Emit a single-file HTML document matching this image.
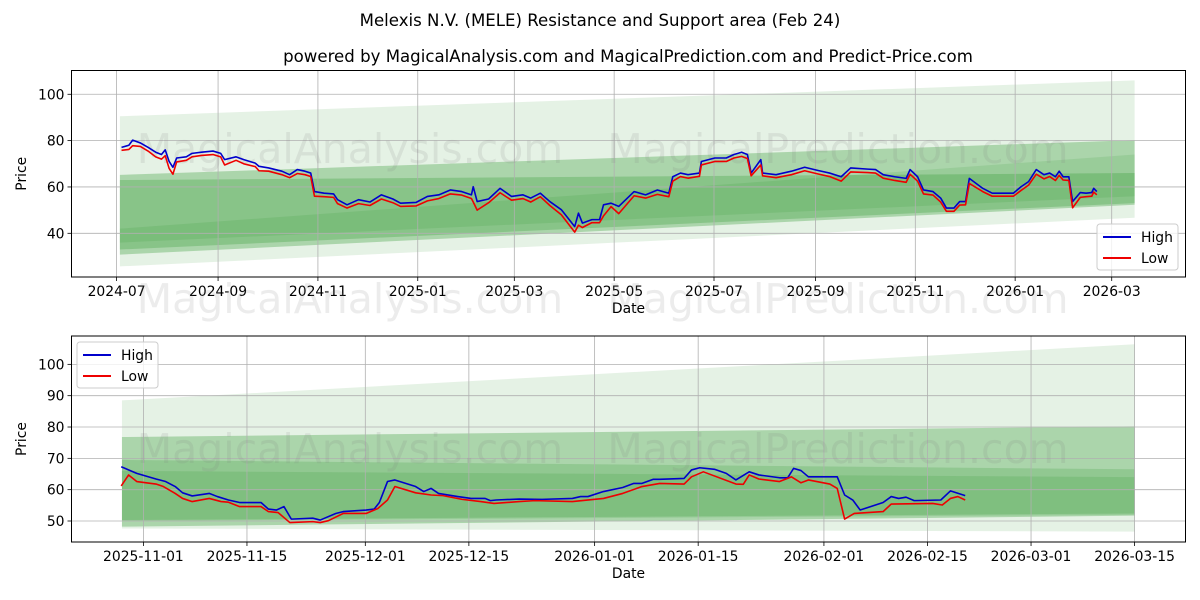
<!DOCTYPE html>
<html><head><meta charset="utf-8">
<style>
body{margin:0;background:#fff;}
svg{display:block;font-family:"DejaVu Sans","Liberation Sans",sans-serif;}
</style></head>
<body>
<svg id="chart" width="1200" height="600" viewBox="0 0 1200 600" xmlns="http://www.w3.org/2000/svg">
<text x="600" y="26" text-anchor="middle" font-size="16.6">Melexis N.V. (MELE) Resistance and Support area (Feb 24)</text>
<text x="628" y="62" text-anchor="middle" font-size="16.6">powered by MagicalAnalysis.com and MagicalPrediction.com and Predict-Price.com</text>
<g id="top"></g>
<g id="bot"></g>
</svg>
<script>
// ---- Top panel data (days since 2024-07-01) ----
const topDays = [3,7.5,9.8,14.5,19.2,23.9,27.4,29.7,32.1,34.4,36.7,42.6,46.1,51.9,58.9,63.6,66,73,77.7,84.7,87,92.9,101,105.7,110.4,115.1,118.6,120.9,126.8,132.6,135,140.8,147.8,154.8,161.8,168.8,173.5,182.9,189.9,196.9,203.9,210.9,216.8,217.9,220.3,227.3,234.3,241.3,248.3,253,258.9,264.7,271.7,279.9,282.2,284.6,290.4,295.1,297.5,302.1,306.8,316.2,323.2,330.4,337.4,339.8,344.5,349.1,356.1,357.3,365.5,372.5,377.2,381.9,385.4,387.7,393.6,394.7,402.9,412.3,420.4,428.6,435.6,442.7,448.5,459,463.7,468.4,475.4,482.4,484.8,489.4,493,498.8,503.5,507,511.6,515.1,518.7,521,529.2,535,540.9,547.9,552.6,557.2,561.9,566.6,570.1,573.6,575.9,578.3,581.8,584.1,588.8,592.3,595.8,597,598.9];
const topHigh = [77.1,78,80.2,79,77.1,75,74,76,71,68.5,72.5,73,74.5,75,75.5,74.5,71.8,73,71.8,70.3,68.9,68.2,66.8,65.3,67.5,66.8,66,58,57.3,57,54.5,52.3,54.5,53.5,56.6,54.8,53,53.3,55.9,56.6,58.7,58,56.6,60.1,53.7,54.8,59.4,55.9,56.6,55.2,57.3,53.7,50.2,42.9,48.7,44.4,45.9,45.9,52.3,53,51.6,58,56.6,58.7,57.3,64.4,66,65.3,66,71,72.5,72.5,74,75,74,66,71.8,66,65.3,66.8,68.5,67.1,66,64.4,68.2,67.7,67.5,65.3,64.4,63.7,67.5,64.4,58.7,58,55.2,50.9,50.9,53.7,53.7,63.7,59.4,57.3,57.3,57.3,60.1,62.3,67.5,65.3,66,64.4,66.8,64.4,64.4,53.7,57.6,57.3,57.6,59.4,58];
const topLow = [75.8,76.2,77.8,77.5,75.5,73,72,73.5,68,65.5,70.8,71.5,73,73.6,74,73,69.5,71.5,70,68.8,67,66.8,65.3,64,65.8,65.3,64.5,56,55.8,55.5,52.8,50.9,52.8,52,54.8,53.2,51.6,51.8,54,55,57,56.5,55,53.5,50,53.2,57.5,54.3,55,53.5,55.8,52,48,40.5,43.5,42.5,44.6,44.6,47.5,51.5,48.5,56.2,55.2,56.8,55.8,62.5,64.5,63.8,64.6,69.5,71,71,72.5,73.2,72.3,64.8,69.5,64.8,64,65.3,67,65.6,64.5,62.5,66.5,66.2,66,63.8,62.8,62,65.5,62.5,57,56.5,53.5,49.5,49.5,52.2,52.3,61.5,58,56,56,56,58.5,60.8,65.5,63.5,64.5,62.8,65,63,62.8,51,55.5,55.8,56,57.8,56.6];
const topTickDays = [0,62,123,184,243,304,365,427,488,549,608];
const topTickLabels = ["2024-07","2024-09","2024-11","2025-01","2025-03","2025-05","2025-07","2025-09","2025-11","2026-01","2026-03"];
const topYTicks = [40,60,80,100];
const topBandStart = 2, topBandEnd = 622;
const topBandsLo0 = [25.7,30.8,33,36];
const topBandsHi0 = [90.5,65.2,63,42];
const topBandsLo1 = [46.7,52.3,53,56];
const topBandsHi1 = [106,80.2,66,74];
const topBandOpacity = [0.1,0.25,0.2,0.1];

// ---- Bottom panel data (days since 2025-11-01) ----
const botDaysH = [-3,-0.9,1.7,3,4.3,5.3,6.6,8.9,10,11.5,13,15.9,16.9,18,19,20,22.9,23.9,26,27,30.1,31.2,31.9,33,34,36.8,37.9,38.9,39.9,42.5,44.3,46.2,46.9,47.7,50.8,53.9,58,59.1,60.1,62.2,64.8,66.3,67.4,68.9,69.8,73.1,74.1,75.2,77.2,78.8,80.1,81.9,83.2,86,87.1,87.9,88.9,89.9,93.8,94.8,95.9,96.9,100,101.1,102.1,103.1,104.2,107.8,109.1,111.1];
const botHigh = [67.3,65.2,63.4,62.6,61,59,58,58.8,57.8,56.7,55.9,55.9,53.8,53.5,54.6,50.6,50.9,50.3,52.4,53,53.5,53.8,55.9,62.6,63.1,61,59.4,60.4,58.8,57.8,57.2,57.2,56.5,56.7,57,56.9,57.2,57.8,57.8,59.4,60.7,62,62,63.3,63.3,63.6,66.3,67,66.5,65.2,63.1,65.7,64.7,63.8,63.8,66.8,66.1,64.1,64.1,58.3,56.7,53.5,55.9,57.8,57.2,57.6,56.5,56.7,59.6,58.1];
const botDaysL = [-3,-2,-0.9,1.7,2.7,4.3,5.3,6.6,8.9,10.5,11.5,13,15.9,16.9,18.2,19.8,22.9,23.9,25,27,30.1,31.7,33,34,36.8,38.9,40.5,43.1,45.6,47.4,50.8,52.9,58,62.2,64.8,67.4,69.8,73.1,74.1,75.7,80.1,81.1,81.9,83.2,86,87.6,88.9,89.9,92.8,93.8,94.8,96.1,100,101.1,106.7,108,109.1,110.1,111.1];
const botLow = [61.2,64.7,62.6,61.8,61,58.8,57.2,56.2,57.2,56.2,56,54.6,54.6,53,52.7,49.5,49.8,49.5,50.1,52.4,52.4,54,56.7,61,59,58.3,58.1,56.9,56.2,55.6,56.2,56.5,56.2,57.2,58.8,61,62,61.8,64.1,65.7,61.8,61.7,64.7,63.4,62.6,64.1,62.2,63.1,61.8,60.4,50.6,52.4,53,55.4,55.6,55.1,57.2,57.8,56.7];
const botTickDays = [0,14,30,44,61,75,92,106,120,134];
const botTickLabels = ["2025-11-01","2025-11-15","2025-12-01","2025-12-15","2026-01-01","2026-01-15","2026-02-01","2026-02-15","2026-03-01","2026-03-15"];
const botYTicks = [50,60,70,80,90,100];
const botBandStart = -2.9, botBandEnd = 134;
const botBandsLo0 = [47.6,48.2,50.3,50];
const botBandsHi0 = [88.5,76.8,69.5,66];
const botBandsLo1 = [46.6,51.7,52.4,52];
const botBandsHi1 = [106.4,80.2,66.5,64];
const botBandOpacity = [0.1,0.25,0.15,0.12];

const NS = "http://www.w3.org/2000/svg";
function mk(tag, attrs, parent){const e=document.createElementNS(NS,tag);for(const k in attrs)e.setAttribute(k,attrs[k]);parent.appendChild(e);return e;}

function panel(g, cfg){
  const L=71.5,R=1185.5,T=cfg.top,B=cfg.bottom;
  const X=d=>cfg.x0+d*cfg.xs;
  const Y=v=>cfg.y0-(v-cfg.v0)*cfg.ys;
  for(let i=0;i<cfg.lo0.length;i++){
    const p=mk('polygon',{points:`${X(cfg.bs)},${Y(cfg.hi0[i])} ${X(cfg.be)},${Y(cfg.hi1[i])} ${X(cfg.be)},${Y(cfg.lo1[i])} ${X(cfg.bs)},${Y(cfg.lo0[i])}`,fill:'green','fill-opacity':cfg.op[i]},g);
    
    
  }
  cfg.tickDays.forEach((d,i)=>{
    const gl=mk('line',{x1:X(d),x2:X(d),y1:T,y2:B,stroke:'#b0b0b0','stroke-width':0.8},g);
    
    
    const tk=mk('line',{x1:X(d),x2:X(d),y1:B,y2:B+4,stroke:'#000','stroke-width':0.8},g);
    
    
    const t=mk('text',{x:X(d),y:B+19,'text-anchor':'middle','font-size':13.9},g);
    t.textContent=cfg.tickLabels[i];
    
    
  });
  cfg.yTicks.forEach(v=>{
    const gl=mk('line',{x1:L,x2:R,y1:Y(v),y2:Y(v),stroke:'#b0b0b0','stroke-width':0.8},g);
    
    
    const tk=mk('line',{x1:L-4,x2:L,y1:Y(v),y2:Y(v),stroke:'#000','stroke-width':0.8},g);
    
    
    const t=mk('text',{x:L-7,y:Y(v)+5,'text-anchor':'end','font-size':13.9},g);
    t.textContent=v;
    
    
  });
  cfg.wm.forEach(w=>{
    const t=mk('text',{x:w[1],y:w[2],'text-anchor':'middle','font-size':41,fill:'#808080','fill-opacity':0.15},g);
    t.textContent=w[0];
    
    
  });
  const hp=mk('polyline',{points:cfg.dh.map((d,i)=>X(d)+','+Y(cfg.high[i])).join(' '),fill:'none',stroke:'#0000cc','stroke-width':1.6,'stroke-linejoin':'round'},g);
  
  
  const lp=mk('polyline',{points:cfg.dl.map((d,i)=>X(d)+','+Y(cfg.low[i])).join(' '),fill:'none',stroke:'#ee0000','stroke-width':1.6,'stroke-linejoin':'round'},g);
  
  
  const fr=mk('rect',{x:L,y:T,width:R-L,height:B-T,fill:'none',stroke:'#000','stroke-width':1},g);
  
  
  const xl=mk('text',{x:(L+R)/2,y:B+36,'text-anchor':'middle','font-size':13.9},g);
  xl.textContent='Date';
  
  
  const yl=mk('text',{x:0,y:0,'text-anchor':'middle','font-size':13.9,transform:`translate(26,${(T+B)/2}) rotate(-90)`},g);
  yl.textContent='Price';
  
  
  const lx=cfg.leg[0], ly=cfg.leg[1];
  const lg=mk('g',{},g);
  
  
  mk('rect',{x:lx,y:ly,width:81,height:46,rx:3,fill:'#fff','fill-opacity':0.8,stroke:'#ccc'},lg);
  [['High','#0000cc'],['Low','#ee0000']].forEach((e,i)=>{
    const yy=ly+13+i*21;
    const ent=mk('g',{},lg);
    
    
    mk('line',{x1:lx+6,x2:lx+34,y1:yy,y2:yy,stroke:e[1],'stroke-width':2},ent);
    const t=mk('text',{x:lx+44,y:yy+5,'font-size':13.9},ent);
    t.textContent=e[0];
  });
}

panel(document.getElementById('top'),{top:70.5,bottom:277,x0:116.6,xs:1.6367,y0:233.3,v0:40,ys:2.317,
  bs:topBandStart,be:topBandEnd,lo0:topBandsLo0,hi0:topBandsHi0,lo1:topBandsLo1,hi1:topBandsHi1,op:topBandOpacity,
  tickDays:topTickDays,tickLabels:topTickLabels,yTicks:topYTicks,dh:topDays,high:topHigh,dl:topDays,low:topLow,
  wm:[['MagicalAnalysis.com',350,163],['MagicalPrediction.com',838,163],['MagicalAnalysis.com',350,313],['MagicalPrediction.com',838,313]],
  leg:[1097,224]});
panel(document.getElementById('bot'),{top:336,bottom:542,x0:143.4,xs:7.397,y0:521,v0:50,ys:3.133,
  bs:botBandStart,be:botBandEnd,lo0:botBandsLo0,hi0:botBandsHi0,lo1:botBandsLo1,hi1:botBandsHi1,op:botBandOpacity,
  tickDays:botTickDays,tickLabels:botTickLabels,yTicks:botYTicks,dh:botDaysH,high:botHigh,dl:botDaysL,low:botLow,
  wm:[['MagicalAnalysis.com',350,463],['MagicalPrediction.com',838,463]],
  leg:[77,342]});
</script>
</body></html>
